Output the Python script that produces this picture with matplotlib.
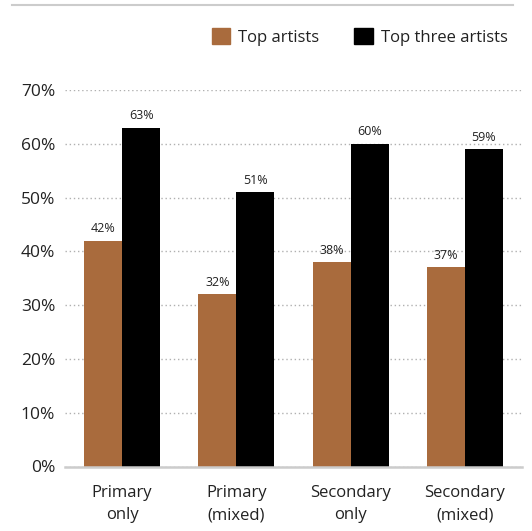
import matplotlib
matplotlib.use("Agg")
import matplotlib.pyplot as plt
from matplotlib.patches import Patch
from matplotlib.lines import Line2D
import numpy as np

CATEGORIES = ["Primary\nonly", "Primary\n(mixed)", "Secondary\nonly", "Secondary\n(mixed)"]
TOP_ARTISTS = [42, 32, 38, 37]
TOP_THREE = [63, 51, 60, 59]
YTICKS = [0, 10, 20, 30, 40, 50, 60, 70]

ORANGE = "#A96B3D"
BLACK = "#000000"
TEXT = "#222222"

plt.rcParams["font.family"] = ["Open Sans", "DejaVu Sans"]

fig = plt.figure(figsize=(5.32, 5.31), dpi=100)
ax = fig.add_axes([65 / 532, 1 - 466.5 / 531, 457 / 532, 376.5 / 531])

x = np.arange(len(CATEGORIES))
w = 0.333
b1 = ax.bar(x - w / 2, TOP_ARTISTS, w, color=ORANGE, zorder=3)
b2 = ax.bar(x + w / 2, TOP_THREE, w, color=BLACK, zorder=3)
for bars in (b1, b2):
    for r in bars:
        ax.annotate(f"{r.get_height():.0f}%", (r.get_x() + r.get_width() / 2, r.get_height()),
                    xytext=(0, 4), textcoords="offset points", ha="center", va="bottom",
                    fontsize=9, color=TEXT)

ax.set_xlim(-0.5, 3.5)
ax.set_ylim(0, 70)
ax.set_yticks(YTICKS)
ax.set_yticklabels([f"{v}%" for v in YTICKS], fontsize=12.5, color=TEXT)
ax.set_xticks(x)
ax.set_xticklabels(CATEGORIES, fontsize=12, color=TEXT, linespacing=1.55)
ax.tick_params(axis="both", length=0)
ax.tick_params(axis="y", pad=7)
ax.tick_params(axis="x", pad=13)
ax.yaxis.grid(True, linestyle=(0, (1, 2)), color="#b0b0b0", lw=1, zorder=0)
for s in ("top", "right", "left"):
    ax.spines[s].set_visible(False)
ax.spines["bottom"].set_color("#cccccc")
ax.spines["bottom"].set_linewidth(1.8)
ax.spines["bottom"].set_zorder(4)

# top rule
fig.add_artist(Line2D([12 / 532, 513 / 532], [1 - 5 / 531] * 2, color="#cccccc", lw=1.5))

handles = [Patch(color=ORANGE, label="Top artists"), Patch(color=BLACK, label="Top three artists")]
fig.legend(handles=handles, loc="center right", bbox_to_anchor=(523 / 532, 1 - 37 / 531),
           ncol=2, frameon=False, fontsize=12, handlelength=1.1, handleheight=1.1,
           handletextpad=0.5, columnspacing=2.1, labelcolor=TEXT)

fig.savefig("out.png", dpi=100)
